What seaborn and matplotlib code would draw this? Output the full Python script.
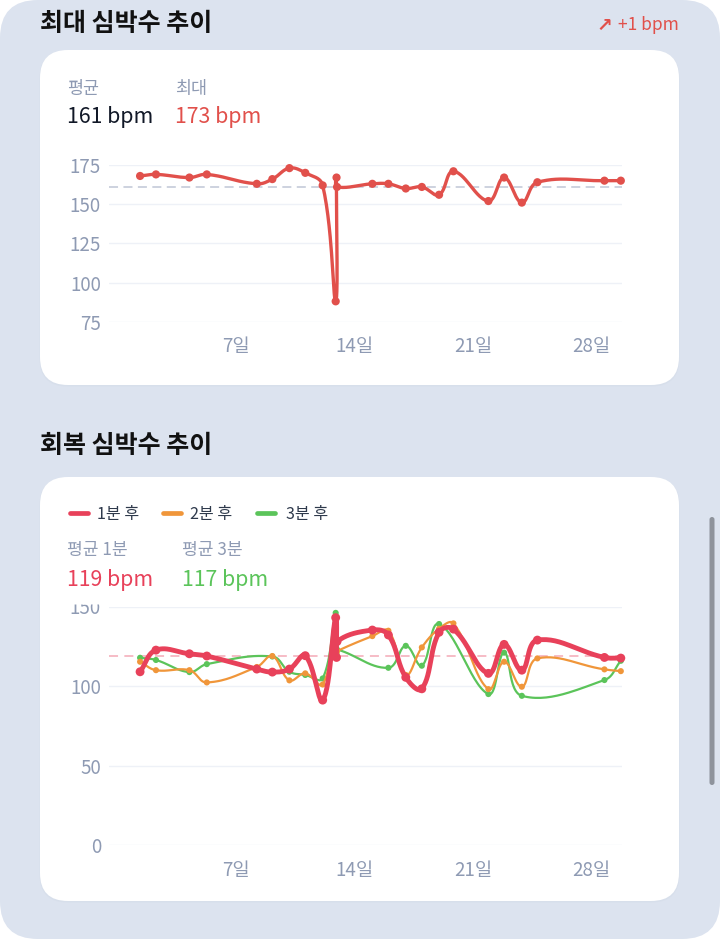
import numpy as np
import pandas as pd
import matplotlib
matplotlib.use("Agg")
import matplotlib.pyplot as plt
import seaborn as sns
from matplotlib.patches import FancyBboxPatch
from matplotlib.lines import Line2D

# ---------------- data ----------------
days = [1.30, 2.24, 4.22, 5.25, 8.21, 9.13, 10.14, 11.08, 12.11, 12.88, 12.93, 12.96,
        15.05, 16.00, 17.03, 17.98, 19.00, 19.85, 21.92, 22.85, 23.90, 24.82, 28.79, 29.76]
max_hr = [168, 169, 167, 169, 163, 166, 173, 170, 162, 88, 167, 161,
          163, 163, 160, 161, 156, 171, 152, 167, 151, 164, 165, 165]
rec_1min = [109, 122.6, 120.3, 118.9, 110.7, 108.8, 110.7, 119.1, 91.2, 143, 118, 128,
            135.2, 132.1, 105.5, 98.3, 133.8, 135.8, 108, 126.2, 110, 128.9, 118, 117.6]
rec_2min = [115.3, 110, 110, 102.3, 112, 118.9, 103.6, 108, 101, 139, 121, 122,
            131.4, 134.8, 107, 124.3, 136, 139.4, 98.1, 115.3, 99.6, 117.4, 110.5, 109.4]
rec_3min = [117.8, 116.4, 108.8, 113.8, np.nan, 118.6, 109, 107, 104.8, 146, 120, 123,
            np.nan, 111.5, 125.3, 112.8, 139, np.nan, 95, 121, 93.9, np.nan, 103.8, 115.9]

max_avg, max_peak, max_delta = 161, 173, 1
rec_avg_1, rec_avg_3 = 119, 117
tick_days = [7, 14, 21, 28]
tick_labels = ["7일", "14일", "21일", "28일"]
max_yticks = [75, 100, 125, 150, 175]
rec_yticks = [0, 50, 100, 150]
series_names = ["1분 후", "2분 후", "3분 후"]

# ---------------- style ----------------
W, H = 720, 939
sns.set_theme(style="white")
plt.rcParams["font.family"] = ["Noto Sans CJK KR", "DejaVu Sans"]

RED_TOP = "#e1504b"
RED = "#e8415a"
ORANGE = "#f0963a"
GREEN = "#5bc45a"
GREY = "#8e9ab3"
GRID = "#eef1f7"

fig = plt.figure(figsize=(W / 100, H / 100), dpi=100)
fig.patch.set_facecolor("white")


def box(x0, y0, x1, y1, r, fc, z, alpha=1.0):
    p = FancyBboxPatch((x0 / 100, (H - y1) / 100), (x1 - x0) / 100, (y1 - y0) / 100,
                       boxstyle=f"round,pad=0,rounding_size={r / 100}",
                       transform=fig.dpi_scale_trans, fc=fc, ec="none",
                       zorder=z, alpha=alpha)
    fig.add_artist(p)


def ftext(x, y, s, **kw):
    fig.text(x / W, 1 - y / H, s, va="baseline", zorder=6, **kw)


# background panel, cards, scrollbar
box(0, 0, 720, 939, 38, "#dce3ef", -20)
for (y0, y1) in [(50, 385), (477, 901)]:
    box(39.5, y0 + 0.5, 679.5, y1 + 1.5, 28, "#d5dde9", -12, alpha=0.6)
    box(40, y0, 679, y1, 28, "white", -10)
box(709.5, 517, 714.5, 785, 2.5, "#8e939c", -5)


def setup(ax, ylim, yticks):
    ax.set_xlim(-0.54, 29.83)
    ax.set_ylim(*ylim)
    ax.patch.set_visible(False)
    for s in ax.spines.values():
        s.set_visible(False)
    ax.set_yticks(yticks)
    ax.set_xticks(tick_days, tick_labels)
    ax.tick_params(axis="both", length=0, colors=GREY, labelsize=13.5)
    ax.tick_params(axis="y", pad=5.8)
    ax.tick_params(axis="x", pad=10.5)
    ax.grid(axis="y", color=GRID, lw=1)
    ax.grid(axis="x", visible=False)
    ax.set_axisbelow(True)


def smooth(ax, xs, ys, t=0.4, n=30):
    xs = np.asarray(xs, float)
    ys = np.asarray(ys, float)
    ok = ~np.isnan(ys)
    pts = ax.transData.transform(np.column_stack([xs[ok], ys[ok]]))
    m = len(pts)
    prev = np.zeros_like(pts)
    nxt = np.zeros_like(pts)
    for i in range(m):
        p0 = pts[max(i - 1, 0)]
        p1 = pts[i]
        p2 = pts[min(i + 1, m - 1)]
        d01 = np.hypot(*(p1 - p0))
        d12 = np.hypot(*(p2 - p1))
        tot = d01 + d12
        s01 = d01 / tot if tot > 0 else 0
        s12 = d12 / tot if tot > 0 else 0
        prev[i] = p1 - t * s01 * (p2 - p0)
        nxt[i] = p1 + t * s12 * (p2 - p0)
    u = np.linspace(0, 1, n)[:, None]
    segs = []
    for i in range(m - 1):
        P0, P1, P2, P3 = pts[i], nxt[i], prev[i + 1], pts[i + 1]
        seg = (1 - u) ** 3 * P0 + 3 * (1 - u) ** 2 * u * P1 + 3 * (1 - u) * u ** 2 * P2 + u ** 3 * P3
        segs.append(seg if i == 0 else seg[1:])
    path = np.vstack(segs)
    d = ax.transData.inverted().transform(path)
    return d[:, 0], d[:, 1]


def draw_series(ax, xs, ys, color, lw, ms, z):
    sx, sy = smooth(ax, xs, ys)
    sns.lineplot(x=sx, y=sy, ax=ax, color=color, lw=lw, sort=False, estimator=None,
                 legend=False, zorder=z, solid_capstyle="round", solid_joinstyle="round",
                 clip_on=False)
    df = pd.DataFrame({"x": xs, "y": ys}).dropna()
    sns.scatterplot(data=df, x="x", y="y", ax=ax, color=color, s=ms ** 2,
                    edgecolor="none", linewidth=0, zorder=z + 0.5, clip_on=False,
                    legend=False)
    ax.set_xlabel("")
    ax.set_ylabel("")


# ---------------- top: 최대 심박수 추이 ----------------
ax1 = fig.add_axes([109 / W, 1 - 321.7 / H, 513 / W, (321.7 - 165) / H])
setup(ax1, (75, 175), max_yticks)
ax1.axhline(max_avg, color="#c9cfdc", lw=1.3, dashes=(5, 3), zorder=1)
draw_series(ax1, days, max_hr, RED_TOP, 2.4, 5.9, 3)

ftext(40, 31, "최대 심박수 추이", fontsize=18, fontweight="bold", color="#111111")
fig.text(612 / W, 1 - 30.5 / H, "↗", fontsize=13.5, color=RED_TOP, ha="right",
         va="baseline", fontweight="bold", family=["DejaVu Sans"], zorder=6)
ftext(679, 30, f"+{max_delta} bpm", fontsize=12.5, color=RED_TOP, ha="right",
      fontweight="medium")
ftext(67, 94, "평균", fontsize=12.5, color=GREY)
ftext(175, 94, "최대", fontsize=12.5, color=GREY)
ftext(67, 123.5, f"{max_avg} bpm", fontsize=15.3, color="#111827")
ftext(175, 123.5, f"{max_peak} bpm", fontsize=15.3, color=RED_TOP)

# ---------------- bottom: 회복 심박수 추이 ----------------
ax2 = fig.add_axes([109 / W, 1 - 845.3 / H, 513 / W, (845.3 - 606.5) / H])
setup(ax2, (0, 150), rec_yticks)
ax2.axhline(rec_avg_1, color="#f6b6c2", lw=1.3, dashes=(5, 3.5), zorder=1)
draw_series(ax2, days, rec_3min, GREEN, 1.6, 4.4, 3)
draw_series(ax2, days, rec_2min, ORANGE, 1.6, 4.4, 4)
draw_series(ax2, days, rec_1min, RED, 3.5, 6.4, 5)

# white header strip that overlaps the top of the chart area (clips the "150" label)
box(45, 525, 675, 604.5, 0, "white", 1)

ftext(40, 453, "회복 심박수 추이", fontsize=18, fontweight="bold", color="#111111")

legend_items = [(69.7, 87.7, 97, RED), (162.5, 180.5, 190.5, ORANGE), (256.5, 274.5, 286.5, GREEN)]
for (xa, xb, xt, c), name in zip(legend_items, series_names):
    fig.add_artist(Line2D([xa / W, xb / W], [1 - 512.5 / H] * 2, transform=fig.transFigure,
                          color=c, lw=3.4, solid_capstyle="round", zorder=6))
    ftext(xt, 518.5, name, fontsize=11.6, color="#2f3a4c")

ftext(67, 555.5, "평균 1분", fontsize=12.3, color=GREY)
ftext(181.5, 555.5, "평균 3분", fontsize=12.3, color=GREY)
ftext(67, 586, f"{rec_avg_1} bpm", fontsize=15.3, color=RED)
ftext(181.5, 586, f"{rec_avg_3} bpm", fontsize=15.3, color=GREEN)

fig.savefig("out.png", dpi=100, facecolor="white")
